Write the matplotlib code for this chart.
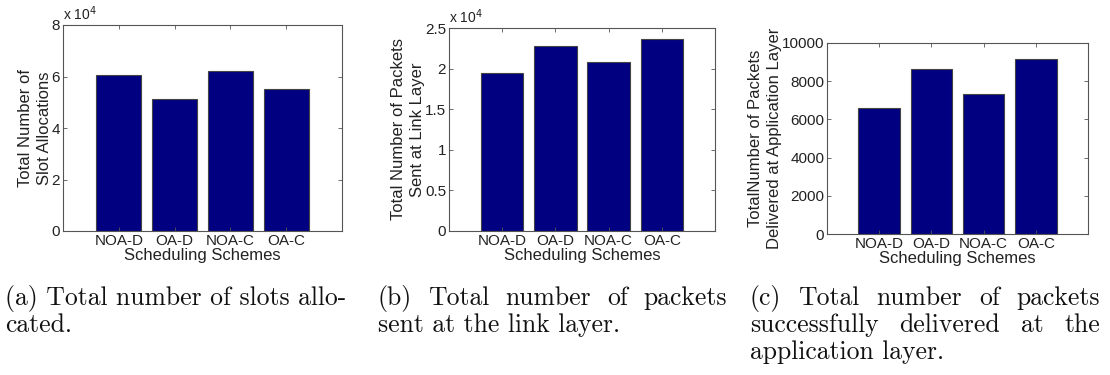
import numpy as np
import matplotlib.pyplot as plt
from matplotlib.ticker import FuncFormatter

# ---- data ----
schemes = ['NOA-D', 'OA-D', 'NOA-C', 'OA-C']
slots = [60500, 51100, 62300, 55100]
link_pkts = [19500, 22800, 20800, 23600]
app_pkts = [6600, 8640, 7310, 9150]

ylabels = ['Total Number of\nSlot Allocations',
           'Total Number of Packets\nSent at Link Layer',
           'TotalNumber of Packets\nDelivered at Application Layer']
captions = [
    ['(a) Total number of slots allo-', 'cated.'],
    ['(b) Total number of packets', 'sent at the link layer.'],
    ['(c) Total number of packets', 'successfully delivered at the', 'application layer.'],
]
justify = [[False, False], [True, False], [True, True, False]]

plt.rcParams['font.family'] = ['Liberation Sans', 'DejaVu Sans']

fig = plt.figure(figsize=(11.1, 3.75), dpi=100)
W, H = 1110, 375

# axes boxes in pixels: left, top, right, bottom
boxes = [(63, 25, 342, 231), (449, 28, 715, 231), (827, 43, 1088, 234)]
series = [slots, link_pkts, app_pkts]
ylims = [(0, 80000), (0, 25000), (0, 10000)]
yticks = [np.arange(0, 80001, 20000), np.arange(0, 25001, 5000), np.arange(0, 10001, 2000)]
scaled = [True, True, False]

x = np.arange(1, len(schemes) + 1)
edge = '#555555'

for i, ax_box in enumerate(boxes):
    l, t, r, b = ax_box
    ax = fig.add_axes([l / W, 1 - b / H, (r - l) / W, (b - t) / H])
    ax.bar(x, series[i], width=0.8, color='#000080', edgecolor='#444444', linewidth=0.8)
    ax.set_xlim(0, 5)
    ax.set_ylim(*ylims[i])
    ax.set_xticks(x)
    ax.set_xticklabels(schemes)
    ax.set_yticks(yticks[i])
    if scaled[i]:
        ax.yaxis.set_major_formatter(FuncFormatter(lambda v, p: f'{v / 1e4:g}'))
        ax.text(0.0, 1.01, r'x 10$^{4}$', transform=ax.transAxes, fontsize=10,
                ha='left', va='bottom', color='#222222')
    ax.tick_params(direction='in', top=True, right=True, labelsize=11,
                   length=3, width=0.6, color=edge, pad=2, labelcolor='#222222')
    for s in ax.spines.values():
        s.set_color(edge)
        s.set_linewidth(0.8)
    ax.set_xlabel('Scheduling Schemes', fontsize=12, labelpad=0, color='#222222')
    ax.set_ylabel(ylabels[i], fontsize=12, labelpad=0, color='#222222', linespacing=1.35)

# ---- captions (LaTeX-like serif, some lines justified) ----
cap_left = [5, 378, 750]
cap_right = [357, 727, 1100]
line_y = [298, 325, 352]
cap_size = 18.5

fig.canvas.draw()
renderer = fig.canvas.get_renderer()

for c, lines in enumerate(captions):
    for j, line in enumerate(lines):
        y = 1 - line_y[j] / H
        if not justify[c][j]:
            fig.text(cap_left[c] / W, y, line, family='cmr10', fontsize=cap_size,
                     ha='left', va='center', color='#111111')
            continue
        words = line.split(' ')
        arts = [fig.text(0, y, w_, family='cmr10', fontsize=cap_size, ha='left',
                         va='center', color='#111111') for w_ in words]
        widths = [a.get_window_extent(renderer).width for a in arts]
        gap = (cap_right[c] - cap_left[c] - sum(widths)) / (len(words) - 1)
        pos = cap_left[c]
        for a, wd in zip(arts, widths):
            a.set_x(pos / W)
            pos += wd + gap

fig.savefig('out.png', dpi=100)
